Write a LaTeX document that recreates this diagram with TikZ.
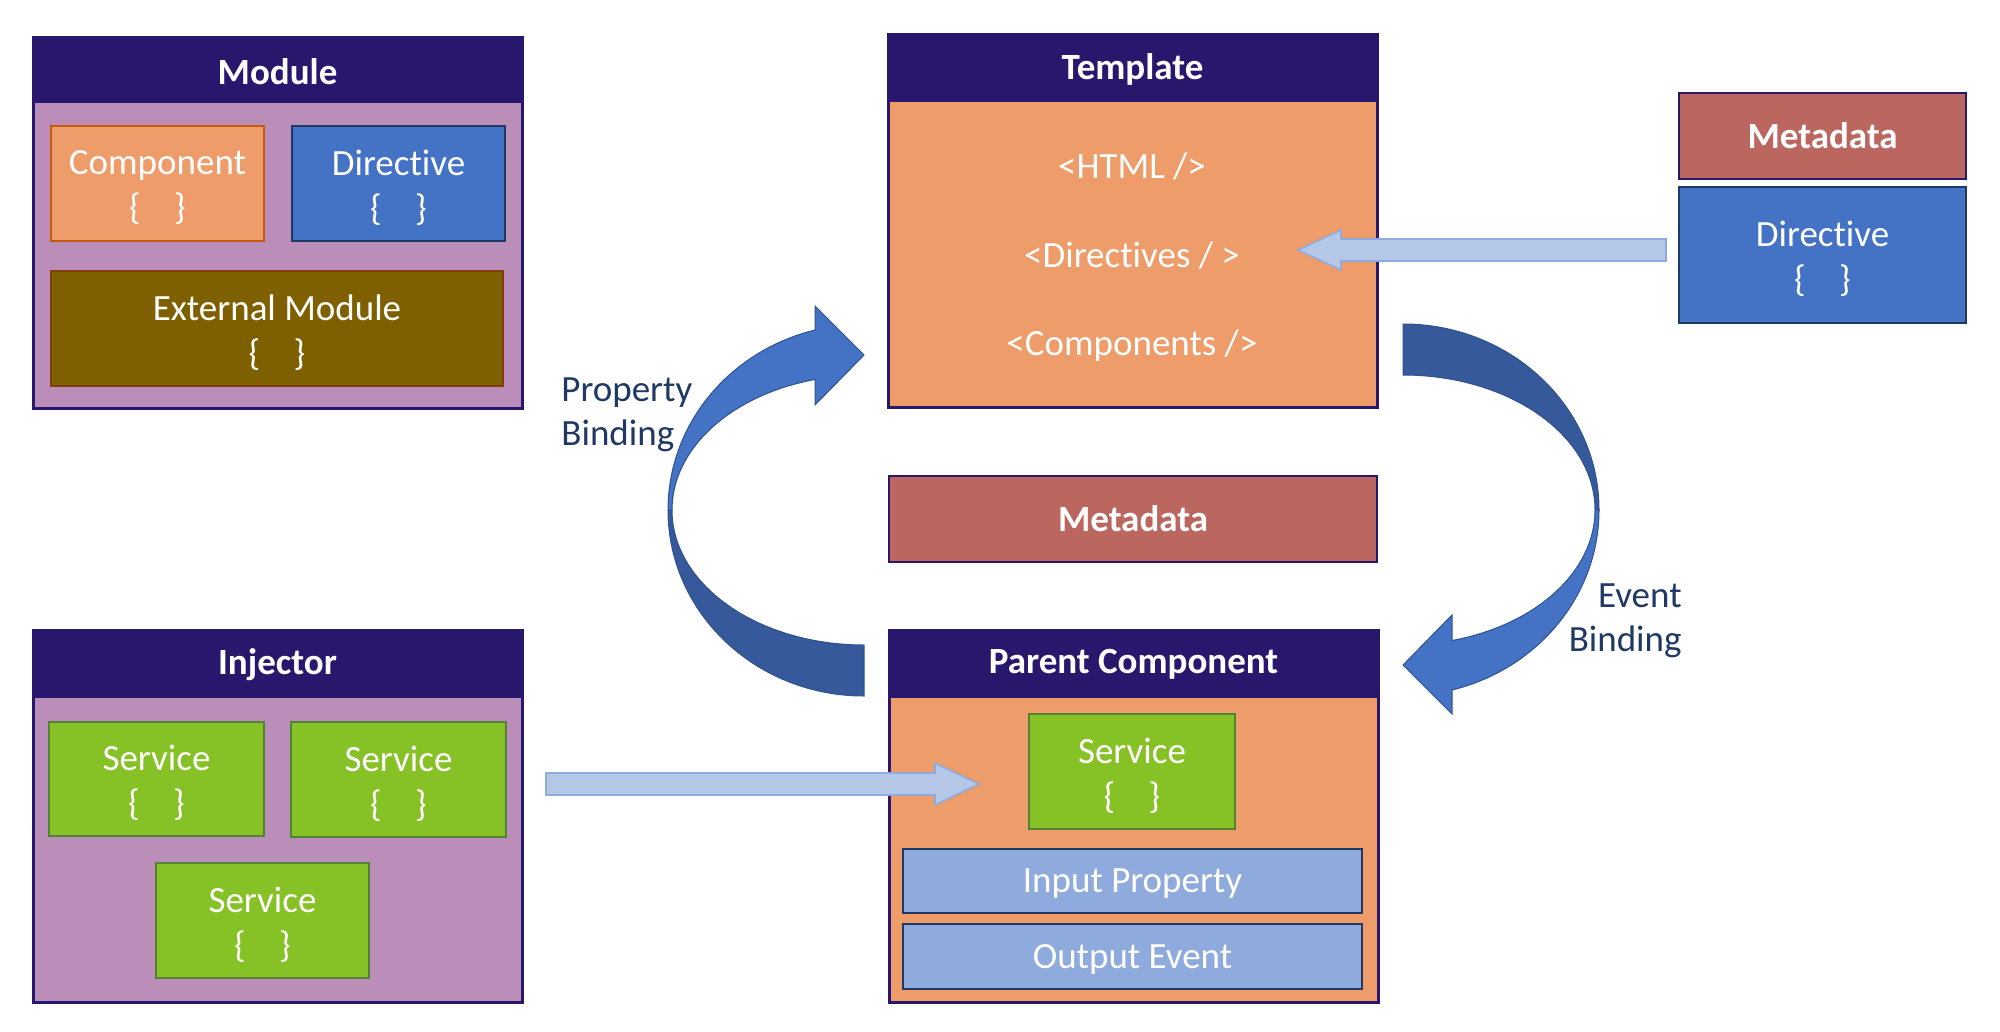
\documentclass[tikz,border=0pt]{standalone}
\usepackage{fontspec}
\setmainfont{Carlito}[Ligatures={NoCommon,NoDiscretionary,NoContextual}]
\definecolor{navy}{HTML}{29176E}
\definecolor{modbody}{HTML}{BA8EB9}
\definecolor{orng}{HTML}{EE9C6A}
\definecolor{orngbd}{HTML}{C55A11}
\definecolor{blu}{HTML}{4472C4}
\definecolor{blubd}{HTML}{203864}
\definecolor{olive}{HTML}{7F6000}
\definecolor{olivebd}{HTML}{843C0C}
\definecolor{meta}{HTML}{BB665E}
\definecolor{srv}{HTML}{86C126}
\definecolor{srvbd}{HTML}{538135}
\definecolor{io}{HTML}{8FAADC}
\definecolor{lite}{HTML}{B4C7E7}
\definecolor{litebd}{HTML}{8FAADC}
\definecolor{darkarr}{HTML}{35599A}
\definecolor{arrbd}{HTML}{2F528F}
\definecolor{lbl}{HTML}{1F3864}
\pgfkeys{/tikz/tshift/.initial=-2pt}
% box node, then its text (slightly lowered, as in the reference)
\newcommand\mybox[7]{%
  \node[#1, minimum width={(#5-#3)*0.5pt}, minimum height={(#6-#4)*0.5pt}] (#2) at ({(#3+#5)/2},{(#4+#6)/2}) {};
  \node[#1, draw=none, fill=none, yshift=\pgfkeysvalueof{/tikz/tshift}] (#2-t) at (#2.center) {#7};}
\newcommand\brc{\{\hspace{0.9em}\}}
\tikzset{
  base/.style={inner sep=0pt, outer sep=0pt, text=white, align=center, font=\fontsize{18.5}{22.5}\selectfont},
  outerbox/.style={base, draw=navy, line width=1.5pt},
  headbox/.style={base, fill=navy, draw=navy, line width=1.5pt, tshift=-0.6pt, font=\bfseries\fontsize{18.5}{22.5}\selectfont},
  compbox/.style={base, fill=orng, draw=orngbd, line width=1pt},
  dirbox/.style={base, fill=blu, draw=blubd, line width=1pt},
  extbox/.style={base, fill=olive, draw=olivebd, line width=1pt},
  metabox/.style={base, fill=meta, draw=navy, line width=1.2pt, tshift=0pt, font=\bfseries\fontsize{18.5}{22.5}\selectfont},
  srvbox/.style={base, fill=srv, draw=srvbd, line width=1pt},
  iobox/.style={base, fill=io, draw=blubd, line width=1pt, tshift=-1.5pt},
  tmpltext/.style={base},
  lbltext/.style={inner sep=0pt, text=lbl, font=\fontsize{18.5}{22}\selectfont},
  blockarrow/.style={fill=lite, draw=litebd, line width=0.8pt},
  curvlite/.style={fill=blu, draw=arrbd, line width=0.5pt},
  curvdark/.style={fill=darkarr, draw=arrbd, line width=0.5pt},
}
\newcommand\curvedarrow{%
  \path[curvdark] (864,696) .. controls (755.7,696) and (668,612.7) .. (668,510)
     -- (672,510) .. controls (672,584.6) and (758,645) .. (864,645) -- cycle;
  \path[curvlite] (668,510) .. controls (668,425.2) and (728.5,351.2) .. (815,330)
     -- (815,306) -- (864,355) -- (815,405) -- (815,379.5)
     .. controls (730.7,395.1) and (672,448.7) .. (672,510) -- cycle;
}
\begin{document}
\begin{tikzpicture}[x=0.5pt,y=-0.5pt]
\useasboundingbox (0,0) rectangle (2000,1032);
% Module
\mybox{outerbox, fill=modbody}{module}{33}{38}{522}{408}{}
\mybox{headbox}{modulehead}{33}{38}{522}{102}{Module}
\mybox{compbox}{component}{51}{126}{264}{241}{Component\\\brc}
\mybox{dirbox}{directiveA}{292}{126}{505}{241}{Directive\\\brc}
\mybox{extbox}{external}{51}{271}{503}{386}{External Module\\\brc}
% Template
\mybox{outerbox, fill=orng}{template}{888}{35}{1377}{407}{}
\mybox{headbox}{templatehead}{888}{35}{1377}{101}{Template}
\node[tmpltext] (html) at (1132,166) {<HTML />};
\node[tmpltext] (dirs) at (1132,255) {<Directives / >};
\node[tmpltext] (comps) at (1132,346) {<Components />};
% Right metadata + directive
\mybox{metabox}{metaright}{1679}{93}{1966}{179}{Metadata}
\mybox{dirbox}{directiveB}{1679}{187}{1966}{323}{Directive\\\brc}
% Middle metadata
\mybox{metabox}{metamid}{889}{476}{1377}{562}{Metadata}
% Parent component
\mybox{outerbox, fill=orng}{parent}{889}{630}{1378}{1002}{}
\mybox{headbox}{parenthead}{889}{630}{1378}{696}{Parent Component}
\mybox{srvbox}{pservice}{1029}{714}{1235}{829}{Service\\\brc}
\mybox{iobox}{input}{903}{849}{1362}{913}{Input Property}
\mybox{iobox}{output}{903}{924}{1362}{989}{Output Event}
% Injector
\mybox{outerbox, fill=modbody}{injector}{33}{630}{522}{1002}{}
\mybox{headbox}{injectorhead}{33}{630}{522}{696}{Injector}
\mybox{srvbox}{s1}{49}{722}{264}{836}{Service\\\brc}
\mybox{srvbox}{s2}{291}{722}{506}{837}{Service\\\brc}
\mybox{srvbox}{s3}{156}{863}{369}{978}{Service\\\brc}
% block arrows
\path[blockarrow] (1666,239) -- (1341,239) -- (1341,230) -- (1298,250) -- (1341,270) -- (1341,261) -- (1666,261) -- cycle;
\path[blockarrow] (546,773) -- (935,773) -- (935,763) -- (979,784) -- (935,805) -- (935,795) -- (546,795) -- cycle;
% curved arrows
\curvedarrow
\begin{scope}[rotate around={180:(1133.5,510)}]
\curvedarrow
\end{scope}
% labels
\node[lbltext, align=left, anchor=west] (propbind) at (561,415) {Property\\Binding};
\node[lbltext, align=right, anchor=east] (evbind) at (1682,621) {Event\\Binding};
\end{tikzpicture}
\end{document}
